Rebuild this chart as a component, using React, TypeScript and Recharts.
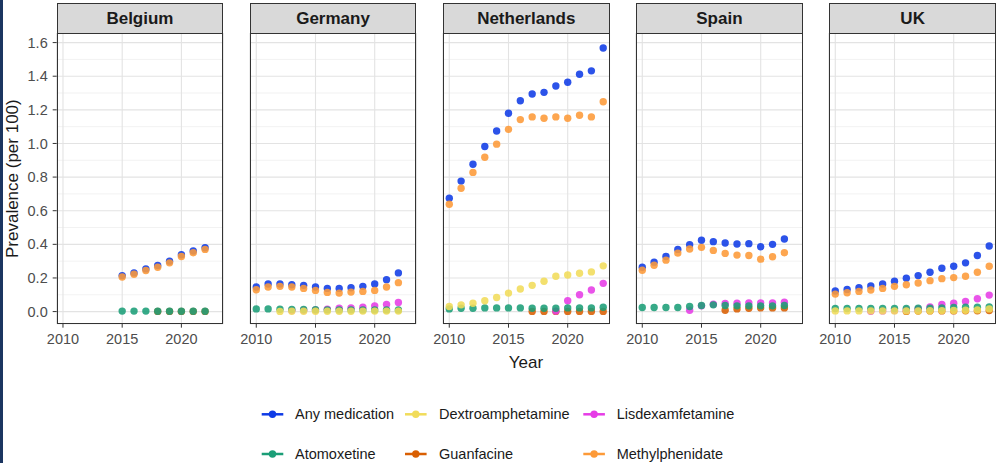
import React from "react";
import { ScatterChart, Scatter, XAxis, YAxis, CartesianGrid } from "recharts";

// ---------- data ----------
const seriesNames = ["Any medication", "Atomoxetine", "Dextroamphetamine", "Guanfacine", "Lisdexamfetamine", "Methylphenidate"];
const seriesColors = ["#0f3be6", "#1b9e77", "#f1dc5a", "#d95f02", "#e63ce6", "#fd9a38"];
const countries = ["Belgium", "Germany", "Netherlands", "Spain", "UK"];
const xTicks = [2010, 2015, 2020];
const xMinorTicks = [2012.5, 2017.5, 2022.5];
const yTicks = [0, 0.2, 0.4, 0.6, 0.8, 1.0, 1.2, 1.4, 1.6];
const yMinorTicks = [0.1, 0.3, 0.5, 0.7, 0.9, 1.1, 1.3, 1.5];

const belgiumYears = [2015, 2016, 2017, 2018, 2019, 2020, 2021, 2022];
const belgiumAny = [0.214, 0.23, 0.254, 0.274, 0.3, 0.338, 0.36, 0.38];
const belgiumAtomoxetine = [0.003, 0.003, 0.003, 0.002, 0.002, 0.002, 0.002, 0.002];
const belgiumDextro = [null, null, null, null, null, null, null, null];
const belgiumGuanfacine = [null, null, null, 0.001, 0.001, 0.001, 0.001, 0.001];
const belgiumLisdex = [null, null, null, null, null, null, null, null];
const belgiumMethyl = [0.206, 0.222, 0.244, 0.264, 0.29, 0.328, 0.35, 0.37];

const germanyYears = [2010, 2011, 2012, 2013, 2014, 2015, 2016, 2017, 2018, 2019, 2020, 2021, 2022];
const germanyAny = [0.146, 0.164, 0.164, 0.16, 0.156, 0.146, 0.138, 0.138, 0.142, 0.15, 0.164, 0.19, 0.23];
const germanyAtomoxetine = [0.016, 0.016, 0.014, 0.013, 0.012, 0.011, 0.01, 0.01, 0.01, 0.01, 0.01, 0.01, 0.01];
const germanyDextro = [null, null, 0.001, 0.002, 0.002, 0.002, 0.002, 0.002, 0.002, 0.003, 0.003, 0.003, 0.003];
const germanyGuanfacine = [null, null, null, null, null, null, null, null, null, null, null, null, null];
const germanyLisdex = [null, null, null, 0.006, 0.008, 0.01, 0.014, 0.02, 0.021, 0.026, 0.034, 0.042, 0.054];
const germanyMethyl = [0.13, 0.146, 0.15, 0.146, 0.138, 0.126, 0.114, 0.11, 0.116, 0.12, 0.126, 0.146, 0.172];

const netherlandsYears = [2010, 2011, 2012, 2013, 2014, 2015, 2016, 2017, 2018, 2019, 2020, 2021, 2022, 2023];
const netherlandsAny = [0.674, 0.776, 0.876, 0.982, 1.074, 1.18, 1.254, 1.294, 1.304, 1.342, 1.364, 1.412, 1.432, 1.568];
const netherlandsAtomoxetine = [0.016, 0.02, 0.02, 0.022, 0.022, 0.022, 0.022, 0.02, 0.02, 0.02, 0.022, 0.022, 0.022, 0.026];
const netherlandsDextro = [0.03, 0.04, 0.05, 0.064, 0.084, 0.11, 0.134, 0.156, 0.18, 0.21, 0.218, 0.228, 0.236, 0.272];
const netherlandsGuanfacine = [null, null, null, null, null, null, null, 0.001, 0.001, 0.001, 0.001, 0.001, 0.001, 0.001];
const netherlandsLisdex = [null, null, null, null, null, null, null, null, null, 0.003, 0.064, 0.1, 0.128, 0.168];
const netherlandsMethyl = [0.638, 0.734, 0.828, 0.918, 0.996, 1.084, 1.142, 1.158, 1.15, 1.158, 1.15, 1.168, 1.158, 1.248];

const spainYears = [2010, 2011, 2012, 2013, 2014, 2015, 2016, 2017, 2018, 2019, 2020, 2021, 2022];
const spainAny = [0.264, 0.294, 0.328, 0.37, 0.398, 0.424, 0.416, 0.408, 0.402, 0.404, 0.386, 0.4, 0.432];
const spainAtomoxetine = [0.024, 0.024, 0.024, 0.024, 0.03, 0.036, 0.04, 0.036, 0.034, 0.034, 0.034, 0.034, 0.036];
const spainDextro = [null, null, null, null, null, null, null, null, null, null, null, null, null];
const spainGuanfacine = [null, null, null, null, null, null, null, 0.008, 0.016, 0.02, 0.022, 0.022, 0.022];
const spainLisdex = [null, null, null, null, 0.008, 0.034, 0.044, 0.048, 0.05, 0.052, 0.052, 0.052, 0.056];
const spainMethyl = [0.246, 0.276, 0.306, 0.348, 0.372, 0.382, 0.364, 0.346, 0.336, 0.334, 0.312, 0.326, 0.35];

const ukYears = [2010, 2011, 2012, 2013, 2014, 2015, 2016, 2017, 2018, 2019, 2020, 2021, 2022, 2023];
const ukAny = [0.122, 0.132, 0.142, 0.152, 0.164, 0.18, 0.198, 0.214, 0.234, 0.258, 0.27, 0.29, 0.334, 0.39];
const ukAtomoxetine = [0.018, 0.018, 0.018, 0.018, 0.018, 0.018, 0.018, 0.02, 0.02, 0.022, 0.024, 0.026, 0.026, 0.028];
const ukDextro = [0.004, 0.004, 0.004, 0.004, 0.004, 0.004, 0.004, 0.004, 0.005, 0.006, 0.007, 0.008, 0.01, 0.016];
const ukGuanfacine = [null, null, null, null, null, null, 0.001, 0.003, 0.004, 0.004, 0.004, 0.005, 0.005, 0.006];
const ukLisdex = [null, null, null, 0.002, 0.004, 0.006, 0.01, 0.016, 0.028, 0.042, 0.05, 0.06, 0.076, 0.098];
const ukMethyl = [0.104, 0.112, 0.12, 0.128, 0.138, 0.15, 0.16, 0.17, 0.184, 0.196, 0.202, 0.21, 0.234, 0.27];

const countryYears = [belgiumYears, germanyYears, netherlandsYears, spainYears, ukYears];
const countrySeries = [
  [belgiumAny, belgiumAtomoxetine, belgiumDextro, belgiumGuanfacine, belgiumLisdex, belgiumMethyl],
  [germanyAny, germanyAtomoxetine, germanyDextro, germanyGuanfacine, germanyLisdex, germanyMethyl],
  [netherlandsAny, netherlandsAtomoxetine, netherlandsDextro, netherlandsGuanfacine, netherlandsLisdex, netherlandsMethyl],
  [spainAny, spainAtomoxetine, spainDextro, spainGuanfacine, spainLisdex, spainMethyl],
  [ukAny, ukAtomoxetine, ukDextro, ukGuanfacine, ukLisdex, ukMethyl],
];

// drawing order (bottom to top) and legend order (column-major, 2 rows)
const drawOrder = [0, 3, 4, 1, 2, 5];
const legendOrder = [0, 2, 4, 1, 3, 5];

// ---------- layout ----------
const FONT = "'Liberation Sans', Arial, sans-serif";
const PANEL_LEFTS = [56.7, 249.8, 443, 636.2, 829.4];
const PANEL_W = 166.5;
const PAD = 22;
const STRIP_TOP = 3;
const PLOT_TOP = 33.3;
const PLOT_H = 290.7;
const XAXIS_H = 30;
const Y_AXIS_W = 56.7;
const X_DOMAIN = [2009.47, 2023.53];
const Y_DOMAIN = [-0.072, 1.657];

const dot = (color: string) => (props: any) => {
  if (props.cx == null || props.cy == null) return <g />;
  return <circle cx={props.cx} cy={props.cy} r={3.7} fill={color} fillOpacity={0.88} />;
};

function Panel({ index }: { index: number }) {
  const years = countryYears[index];
  const series = countrySeries[index];
  const first = index === 0;
  const left = first ? 0 : PANEL_LEFTS[index] - PAD;
  const width = first ? Y_AXIS_W + PANEL_W + PAD : PANEL_W + 2 * PAD;
  const tickStyle = { fontSize: 14.5, fill: "#4d4d4d", fontFamily: FONT };
  return (
    <div style={{ position: "absolute", left, top: PLOT_TOP, width, height: PLOT_H + XAXIS_H }}>
      <ScatterChart
        width={width}
        height={PLOT_H + XAXIS_H}
        margin={{ top: 0, right: PAD, bottom: 0, left: first ? 0 : PAD }}
      >
        <CartesianGrid xAxisId="minor" yAxisId="minor" stroke="#ededed" strokeWidth={0.7} />
        <CartesianGrid stroke="#e3e3e3" strokeWidth={1.1} />
        <XAxis
          dataKey="x"
          type="number"
          domain={X_DOMAIN}
          ticks={xTicks}
          allowDataOverflow
          height={XAXIS_H}
          axisLine={false}
          tickLine={{ stroke: "#333333" }}
          tickSize={4}
          tickMargin={6}
          tick={tickStyle}
          interval={0}
        />
        <XAxis xAxisId="minor" type="number" domain={X_DOMAIN} ticks={xMinorTicks} allowDataOverflow hide />
        <YAxis
          dataKey="y"
          type="number"
          domain={Y_DOMAIN}
          ticks={yTicks}
          allowDataOverflow
          hide={!first}
          width={Y_AXIS_W}
          axisLine={false}
          tickLine={{ stroke: "#333333" }}
          tickSize={4}
          tickMargin={5}
          tick={tickStyle}
          interval={0}
          tickFormatter={(v: number) => v.toFixed(1)}
        />
        <YAxis yAxisId="minor" type="number" domain={Y_DOMAIN} ticks={yMinorTicks} allowDataOverflow hide />
        {drawOrder.map((si) => {
          const vals = series[si];
          const data = years
            .map((yr, i) => ({ x: yr, y: vals[i] }))
            .filter((d) => d.y !== null && d.y !== undefined);
          if (data.length === 0) return null;
          return (
            <Scatter
              key={seriesNames[si]}
              name={seriesNames[si]}
              data={data}
              fill={seriesColors[si]}
              shape={dot(seriesColors[si])}
              isAnimationActive={false}
            />
          );
        })}
      </ScatterChart>
    </div>
  );
}

export default function App() {
  const legendKeyX = [261.7, 405, 583.3];
  const legendTextX = [295, 439, 616.7];
  const legendRowY = [414.3, 454];
  return (
    <div style={{ position: "absolute", left: 0, top: 0, width: 1000, height: 463, background: "#ffffff", overflow: "hidden", fontFamily: FONT }}>
      <div style={{ position: "absolute", left: 0, top: 0, width: 3, height: 463, background: "#1b3560" }} />
      <svg width={1000} height={463} style={{ position: "absolute", left: 0, top: 0 }}>
        <text x={526} y={368} textAnchor="middle" fontSize={17} fill="#1a1a1a" fontFamily={FONT}>Year</text>
        <text
          x={0}
          y={0}
          transform={`translate(18, ${PLOT_TOP + PLOT_H / 2}) rotate(-90)`}
          textAnchor="middle"
          fontSize={17}
          fill="#1a1a1a"
          fontFamily={FONT}
        >
          Prevalence (per 100)
        </text>
        {legendOrder.map((si, k) => {
          const col = k % 3;
          const row = Math.floor(k / 3);
          const y = legendRowY[row];
          const x0 = legendKeyX[col];
          return (
            <g key={seriesNames[si]}>
              <line x1={x0} x2={x0 + 21.6} y1={y} y2={y} stroke={seriesColors[si]} strokeWidth={2.5} />
              <circle cx={x0 + 10.8} cy={y} r={3.7} fill={seriesColors[si]} />
              <text x={legendTextX[col]} y={y + 5} fontSize={14.5} fill="#1a1a1a" fontFamily={FONT}>
                {seriesNames[si]}
              </text>
            </g>
          );
        })}
      </svg>
      {countries.map((c, i) => (
        <Panel key={c} index={i} />
      ))}
      {countries.map((c, i) => (
        <React.Fragment key={c + "-frame"}>
          <div
            style={{
              position: "absolute",
              left: PANEL_LEFTS[i],
              top: STRIP_TOP,
              width: PANEL_W,
              height: PLOT_TOP - STRIP_TOP + 0.7,
              boxSizing: "border-box",
              background: "#d9d9d9",
              border: "1.1px solid #333333",
              display: "flex",
              alignItems: "center",
              justifyContent: "center",
              fontWeight: "bold",
              fontSize: 17,
              color: "#1a1a1a",
            }}
          >
            {c}
          </div>
          <div
            style={{
              position: "absolute",
              left: PANEL_LEFTS[i],
              top: PLOT_TOP,
              width: PANEL_W,
              height: PLOT_H,
              boxSizing: "border-box",
              border: "1.1px solid #333333",
              pointerEvents: "none",
            }}
          />
        </React.Fragment>
      ))}
    </div>
  );
}
